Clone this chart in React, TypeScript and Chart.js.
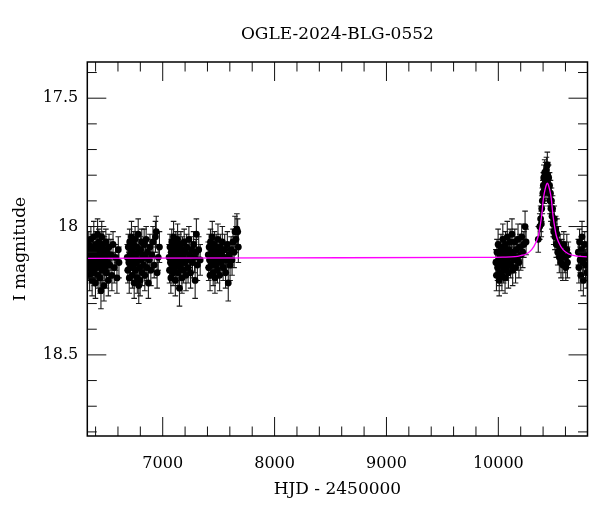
import React, { useEffect, useRef } from "react";
import { Chart, registerables } from "chart.js";

Chart.register(...registerables);

const chartTitle = "OGLE-2024-BLG-0552";
const xAxisLabel = "HJD - 2450000";
const yAxisLabel = "I magnitude";

const xMin = 6326;
const xMax = 10797;
const yMin = 17.359;
const yMax = 18.816;
const xMajorTicks = [7000, 8000, 9000, 10000];
const yMajorTicks = [17.5, 18, 18.5];
const xMinorStep = 200;
const yMinorStep = 0.1;

// [HJD-2450000, I mag, error]
const season2013 = [
  [6331, 18.11, 0.05], [6335, 18.16, 0.05], [6339, 18.07, 0.05], [6343, 18.13, 0.04], [6347, 18.19, 0.06],
  [6351, 18.09, 0.05], [6354, 18.14, 0.04], [6358, 18.05, 0.05], [6362, 18.17, 0.05], [6366, 18.11, 0.04],
  [6369, 18.21, 0.06], [6373, 18.08, 0.05], [6377, 18.15, 0.05], [6381, 18.12, 0.04], [6384, 18.04, 0.06],
  [6388, 18.18, 0.05], [6392, 18.10, 0.04], [6396, 18.14, 0.05], [6399, 18.22, 0.06], [6403, 18.07, 0.05],
  [6407, 18.13, 0.04], [6411, 18.16, 0.05], [6414, 18.09, 0.05], [6418, 18.03, 0.06], [6422, 18.19, 0.05],
  [6425, 18.12, 0.04], [6429, 18.06, 0.05], [6433, 18.15, 0.05], [6437, 18.10, 0.04], [6440, 18.20, 0.06],
  [6444, 18.08, 0.05], [6448, 18.25, 0.07], [6451, 18.13, 0.05], [6455, 18.04, 0.06], [6459, 18.17, 0.05],
  [6463, 18.11, 0.04], [6467, 18.07, 0.05], [6471, 18.14, 0.05], [6475, 18.23, 0.06], [6479, 18.09, 0.05],
  [6483, 18.16, 0.05], [6487, 18.12, 0.04], [6492, 18.06, 0.05], [6497, 18.18, 0.06], [6502, 18.10, 0.05],
  [6508, 18.14, 0.05], [6514, 18.21, 0.06], [6520, 18.08, 0.05], [6528, 18.15, 0.05], [6537, 18.11, 0.06],
  [6546, 18.19, 0.06], [6556, 18.07, 0.05], [6567, 18.16, 0.06], [6579, 18.12, 0.05], [6591, 18.20, 0.06],
  [6603, 18.09, 0.05], [6609, 18.14, 0.06],
];

const season2014 = [
  [6683, 18.12, 0.05], [6688, 18.17, 0.05], [6692, 18.08, 0.05], [6697, 18.14, 0.04], [6701, 18.20, 0.06],
  [6705, 18.06, 0.05], [6709, 18.11, 0.04], [6713, 18.16, 0.05], [6717, 18.09, 0.05], [6721, 18.04, 0.06],
  [6725, 18.13, 0.04], [6729, 18.19, 0.05], [6733, 18.10, 0.05], [6737, 18.15, 0.04], [6741, 18.07, 0.05],
  [6745, 18.22, 0.06], [6749, 18.12, 0.05], [6753, 18.05, 0.05], [6757, 18.17, 0.05], [6761, 18.11, 0.04],
  [6765, 18.14, 0.05], [6769, 18.08, 0.05], [6773, 18.20, 0.06], [6777, 18.13, 0.04], [6781, 18.03, 0.06],
  [6786, 18.23, 0.07], [6790, 18.10, 0.05], [6794, 18.16, 0.05], [6798, 18.21, 0.06], [6803, 18.09, 0.05],
  [6808, 18.13, 0.04], [6813, 18.06, 0.05], [6818, 18.18, 0.05], [6823, 18.11, 0.05], [6828, 18.15, 0.05],
  [6834, 18.07, 0.06], [6840, 18.19, 0.06], [6846, 18.12, 0.05], [6852, 18.05, 0.05], [6858, 18.16, 0.05],
  [6865, 18.10, 0.05], [6872, 18.22, 0.06], [6879, 18.13, 0.05], [6886, 18.08, 0.05], [6894, 18.17, 0.06],
  [6903, 18.11, 0.05], [6913, 18.06, 0.06], [6924, 18.15, 0.05], [6935, 18.04, 0.06], [6942, 18.02, 0.06],
  [6950, 18.18, 0.06], [6960, 18.12, 0.05], [6971, 18.08, 0.06],
];

const season2015 = [
  [7057, 18.12, 0.05], [7061, 18.17, 0.05], [7065, 18.08, 0.05], [7069, 18.14, 0.04], [7073, 18.20, 0.06],
  [7077, 18.10, 0.05], [7081, 18.06, 0.05], [7085, 18.15, 0.04], [7089, 18.11, 0.05], [7093, 18.18, 0.05],
  [7097, 18.04, 0.06], [7101, 18.13, 0.04], [7105, 18.09, 0.05], [7109, 18.16, 0.05], [7113, 18.21, 0.06],
  [7117, 18.07, 0.05], [7121, 18.12, 0.04], [7125, 18.15, 0.05], [7129, 18.10, 0.05], [7133, 18.05, 0.06],
  [7137, 18.18, 0.05], [7141, 18.13, 0.04], [7145, 18.08, 0.05], [7150, 18.24, 0.07], [7154, 18.11, 0.05],
  [7158, 18.16, 0.05], [7162, 18.07, 0.05], [7167, 18.14, 0.04], [7172, 18.20, 0.06], [7177, 18.09, 0.05],
  [7182, 18.12, 0.05], [7187, 18.17, 0.05], [7192, 18.06, 0.05], [7197, 18.14, 0.05], [7202, 18.10, 0.05],
  [7208, 18.19, 0.06], [7214, 18.08, 0.05], [7220, 18.13, 0.05], [7227, 18.16, 0.06], [7234, 18.05, 0.05],
  [7241, 18.11, 0.05], [7249, 18.18, 0.06], [7257, 18.09, 0.05], [7266, 18.14, 0.06], [7276, 18.07, 0.05],
  [7285, 18.12, 0.06], [7290, 18.21, 0.07], [7297, 18.10, 0.05], [7301, 18.03, 0.06], [7310, 18.15, 0.06],
  [7322, 18.09, 0.05], [7335, 18.13, 0.06],
];

const season2016 = [
  [7407, 18.11, 0.05], [7411, 18.16, 0.05], [7415, 18.08, 0.05], [7419, 18.13, 0.04], [7423, 18.19, 0.06],
  [7427, 18.06, 0.05], [7431, 18.12, 0.04], [7435, 18.15, 0.05], [7439, 18.09, 0.05], [7443, 18.04, 0.06],
  [7447, 18.14, 0.04], [7451, 18.18, 0.05], [7455, 18.10, 0.05], [7459, 18.13, 0.04], [7463, 18.07, 0.05],
  [7467, 18.20, 0.06], [7471, 18.11, 0.05], [7475, 18.15, 0.05], [7479, 18.08, 0.05], [7484, 18.12, 0.04],
  [7489, 18.17, 0.05], [7494, 18.05, 0.06], [7499, 18.13, 0.05], [7504, 18.10, 0.05], [7509, 18.19, 0.06],
  [7515, 18.08, 0.05], [7521, 18.14, 0.05], [7527, 18.11, 0.05], [7533, 18.06, 0.06], [7540, 18.16, 0.05],
  [7547, 18.12, 0.05], [7554, 18.09, 0.06], [7562, 18.18, 0.06], [7570, 18.13, 0.05], [7578, 18.07, 0.05],
  [7586, 18.22, 0.07], [7594, 18.11, 0.05], [7602, 18.15, 0.06], [7611, 18.09, 0.05], [7620, 18.13, 0.06],
  [7629, 18.06, 0.05], [7638, 18.10, 0.06], [7646, 18.02, 0.06], [7655, 18.05, 0.05], [7663, 18.01, 0.06],
  [7670, 18.02, 0.05], [7676, 18.08, 0.06],
];

const season2023 = [
  [9978, 18.14, 0.05], [9983, 18.19, 0.06], [9988, 18.10, 0.05], [9993, 18.16, 0.05], [9998, 18.07, 0.06],
  [10003, 18.13, 0.05], [10008, 18.21, 0.06], [10012, 18.18, 0.05], [10016, 18.11, 0.05], [10020, 18.15, 0.05],
  [10024, 18.08, 0.05], [10028, 18.13, 0.04], [10032, 18.19, 0.06], [10036, 18.10, 0.05], [10040, 18.05, 0.06],
  [10044, 18.14, 0.05], [10048, 18.17, 0.05], [10052, 18.09, 0.05], [10056, 18.12, 0.04], [10060, 18.20, 0.06],
  [10064, 18.07, 0.05], [10068, 18.13, 0.05], [10072, 18.16, 0.05], [10076, 18.10, 0.05], [10080, 18.04, 0.06],
  [10085, 18.14, 0.05], [10090, 18.18, 0.06], [10095, 18.09, 0.05], [10100, 18.12, 0.05], [10105, 18.06, 0.05],
  [10110, 18.15, 0.05], [10116, 18.11, 0.05], [10122, 18.03, 0.06], [10128, 18.17, 0.06], [10134, 18.10, 0.05],
  [10140, 18.13, 0.05], [10147, 18.06, 0.05], [10154, 18.16, 0.06], [10161, 18.09, 0.05], [10168, 18.12, 0.05],
  [10176, 18.05, 0.06], [10184, 18.14, 0.06], [10192, 18.08, 0.05], [10200, 18.11, 0.06], [10209, 18.04, 0.05],
  [10218, 18.10, 0.06], [10228, 18.07, 0.05], [10239, 18.00, 0.06], [10248, 18.06, 0.05],
];

const season2024 = [
  [10357, 18.05, 0.05], [10370, 18.00, 0.05], [10378, 17.97, 0.05], [10384, 17.99, 0.05], [10388, 17.93, 0.05],
  [10393, 17.90, 0.05], [10398, 17.87, 0.05], [10402, 17.84, 0.05], [10406, 17.81, 0.05], [10410, 17.86, 0.05],
  [10414, 17.79, 0.05], [10418, 17.83, 0.05], [10422, 17.80, 0.05], [10426, 17.85, 0.05], [10430, 17.78, 0.05],
  [10434, 17.82, 0.05], [10438, 17.76, 0.05], [10442, 17.80, 0.05], [10446, 17.84, 0.05], [10450, 17.81, 0.05],
  [10454, 17.87, 0.05], [10458, 17.84, 0.05], [10462, 17.90, 0.05], [10466, 17.87, 0.05], [10470, 17.93, 0.05],
  [10475, 17.90, 0.05], [10480, 17.96, 0.05], [10485, 17.93, 0.05], [10490, 17.99, 0.05], [10495, 18.02, 0.05],
  [10500, 17.97, 0.05], [10506, 18.04, 0.05], [10512, 18.01, 0.05], [10518, 18.07, 0.05], [10524, 18.03, 0.06],
  [10531, 18.10, 0.05], [10538, 18.06, 0.06], [10545, 18.12, 0.06], [10552, 18.08, 0.05], [10560, 18.14, 0.06],
  [10568, 18.10, 0.05], [10576, 18.15, 0.06], [10585, 18.07, 0.05], [10594, 18.12, 0.06], [10603, 18.16, 0.05],
  [10612, 18.09, 0.06], [10618, 18.14, 0.06], [10626, 18.11, 0.05],
];

const season2025 = [
  [10715, 18.10, 0.05], [10720, 18.16, 0.06], [10726, 18.06, 0.05], [10731, 18.13, 0.05], [10737, 18.19, 0.06],
  [10742, 18.09, 0.05], [10748, 18.04, 0.06], [10754, 18.14, 0.05], [10760, 18.21, 0.06], [10766, 18.11, 0.05],
  [10772, 18.07, 0.05], [10779, 18.15, 0.06], [10786, 18.12, 0.05], [10793, 18.18, 0.06],
];

const modelHjd = [
  6326, 8000, 9800, 10040, 10150, 10200, 10250, 10298, 10338, 10358, 10373, 10388, 10403, 10418, 10430,
  10438, 10446, 10458, 10473, 10488, 10503, 10518, 10538, 10578, 10628, 10700, 10797,
];
const modelMag = [
  18.124, 18.122, 18.12, 18.119, 18.117, 18.113, 18.107, 18.09, 18.06, 18.035, 18.0, 17.955, 17.89, 17.855,
  17.836, 17.831, 17.836, 17.855, 17.89, 17.955, 18.0, 18.035, 18.06, 18.09, 18.107, 18.115, 18.118,
];

const FONT = '"DejaVu Serif", serif';

const allSeasons = [season2013, season2014, season2015, season2016, season2023, season2024, season2025];

const errorBarPlugin = {
  id: "errorBars",
  beforeDatasetsDraw(chart: any) {
    const { ctx, chartArea } = chart;
    const xs = chart.scales.x;
    const ys = chart.scales.y;
    const ds = chart.data.datasets[1];
    ctx.save();
    ctx.beginPath();
    ctx.rect(chartArea.left, chartArea.top, chartArea.right - chartArea.left, chartArea.bottom - chartArea.top);
    ctx.clip();
    ctx.strokeStyle = "#1a1a1a";
    ctx.lineWidth = 1.1;
    const cap = 2.8;
    ds.data.forEach((p: any) => {
      const px = xs.getPixelForValue(p.x);
      const y1 = ys.getPixelForValue(p.y - p.err);
      const y2 = ys.getPixelForValue(p.y + p.err);
      ctx.beginPath();
      ctx.moveTo(px, y1);
      ctx.lineTo(px, y2);
      ctx.moveTo(px - cap, y1);
      ctx.lineTo(px + cap, y1);
      ctx.moveTo(px - cap, y2);
      ctx.lineTo(px + cap, y2);
      ctx.stroke();
    });
    ctx.restore();
  },
};

const frameAndTitlePlugin = {
  id: "frameTicks",
  afterDraw(chart: any) {
    const { ctx, chartArea } = chart;
    const { left, right, top, bottom } = chartArea;
    const xs = chart.scales.x;
    const ys = chart.scales.y;
    const major = 19;
    const minor = 9.5;
    ctx.save();
    ctx.strokeStyle = "#111";
    ctx.lineWidth = 1;
    ctx.beginPath();
    for (let v = Math.ceil(xMin / xMinorStep) * xMinorStep; v <= xMax; v += xMinorStep) {
      const px = xs.getPixelForValue(v);
      const len = v % 1000 === 0 ? major : minor;
      ctx.moveTo(px, bottom);
      ctx.lineTo(px, bottom - len);
      ctx.moveTo(px, top);
      ctx.lineTo(px, top + len);
    }
    const startY = Math.ceil(yMin / yMinorStep - 1e-6);
    for (let k = startY; k * yMinorStep <= yMax + 1e-9; k++) {
      const v = k * yMinorStep;
      const py = ys.getPixelForValue(v);
      const isMajor = k % 5 === 0;
      const len = isMajor ? major : minor;
      ctx.moveTo(left, py);
      ctx.lineTo(left + len, py);
      ctx.moveTo(right, py);
      ctx.lineTo(right - len, py);
    }
    ctx.stroke();
    ctx.lineWidth = 1.5;
    ctx.strokeStyle = "#000";
    ctx.strokeRect(left, top, right - left, bottom - top);
    ctx.fillStyle = "#000";
    ctx.font = `17px ${FONT}`;
    ctx.textAlign = "center";
    ctx.textBaseline = "middle";
    ctx.fillText(chartTitle, (left + right) / 2, 35);
    ctx.restore();
  },
};

export default function App() {
  const canvasRef = useRef<HTMLCanvasElement | null>(null);

  useEffect(() => {
    if (!canvasRef.current) return;
    const points: any[] = [];
    allSeasons.forEach((s) => s.forEach(([x, y, err]) => points.push({ x, y, err })));
    const model = modelHjd.map((x, i) => ({ x, y: modelMag[i] }));

    const chart = new Chart(canvasRef.current, {
      type: "scatter",
      data: {
        datasets: [
          {
            type: "line",
            data: model,
            borderColor: "#ff00ff",
            borderWidth: 1.3,
            pointRadius: 0,
            fill: false,
            cubicInterpolationMode: "monotone",
            order: 0,
          } as any,
          {
            type: "scatter",
            data: points,
            backgroundColor: "#000",
            borderWidth: 0,
            pointRadius: 3.4,
            order: 1,
          } as any,
        ],
      },
      options: {
        animation: false,
        responsive: false,
        devicePixelRatio: 1,
        layout: { padding: { top: 62, right: 12.5, bottom: 0, left: 0 } },
        plugins: {
          legend: { display: false },
          tooltip: { enabled: false },
          title: { display: false },
        },
        scales: {
          x: {
            type: "linear",
            position: "bottom",
            min: xMin,
            max: xMax,
            afterBuildTicks: (s: any) => {
              s.ticks = xMajorTicks.map((v) => ({ value: v }));
            },
            afterFit: (s: any) => {
              s.height = 76;
            },
            grid: { display: false, drawTicks: false },
            border: { display: false },
            ticks: {
              color: "#000",
              font: { family: FONT, size: 16 },
              padding: 18,
              maxRotation: 0,
              autoSkip: false,
              callback: (v: any) => String(v),
            },
            title: {
              display: true,
              text: xAxisLabel,
              color: "#000",
              font: { family: FONT, size: 17 },
              padding: { top: 0, bottom: 12 },
            },
          },
          y: {
            type: "linear",
            reverse: true,
            min: yMin,
            max: yMax,
            afterBuildTicks: (s: any) => {
              s.ticks = yMajorTicks.map((v) => ({ value: v }));
            },
            afterFit: (s: any) => {
              s.width = 87.3;
            },
            grid: { display: false, drawTicks: false },
            border: { display: false },
            ticks: {
              color: "#000",
              font: { family: FONT, size: 16 },
              padding: 9,
              autoSkip: false,
              callback: (v: any) => String(v),
            },
            title: {
              display: true,
              text: yAxisLabel,
              color: "#000",
              font: { family: FONT, size: 17 },
              padding: { top: 10, bottom: 0 },
            },
          },
        },
      },
      plugins: [errorBarPlugin, frameAndTitlePlugin],
    });
    return () => chart.destroy();
  }, []);

  return (
    <div style={{ position: "fixed", left: 0, top: 0, width: 600, height: 512, background: "#fff" }}>
      <canvas ref={canvasRef} width={600} height={512} style={{ display: "block", width: 600, height: 512 }} />
    </div>
  );
}
